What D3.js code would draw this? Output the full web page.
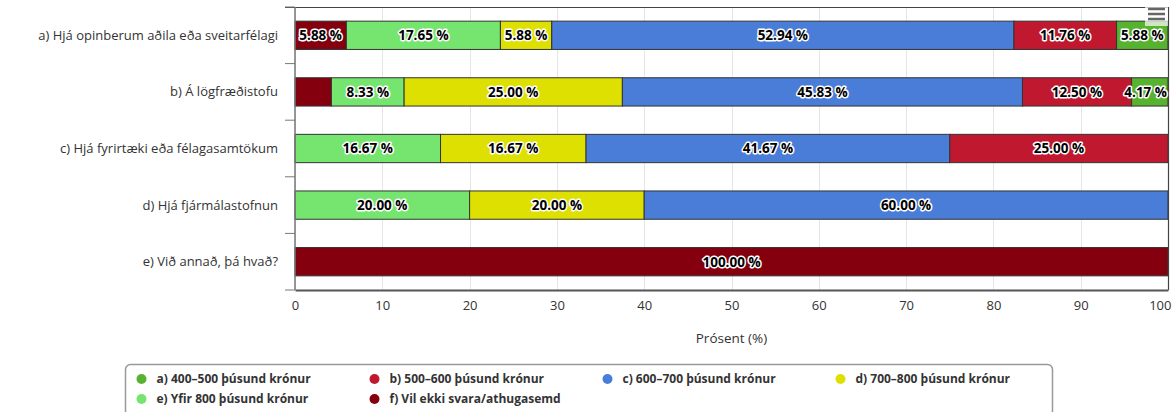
<!DOCTYPE html>
<html>
<head>
<meta charset="utf-8">
<script src="https://cdn.jsdelivr.net/npm/d3@7"></script>
<style>
  body { margin: 0; background: #fff; }
  text { font-family: "Open Sans", "DejaVu Sans", sans-serif; }
</style>
</head>
<body>
<div id="chart"></div>
<script>
// categories (y axis) and series, stacked left to right f, e, d, c, b, a
var categories = [
  "a) Hjá opinberum aðila eða sveitarfélagi",
  "b) Á lögfræðistofu",
  "c) Hjá fyrirtæki eða félagasamtökum",
  "d) Hjá fjármálastofnun",
  "e) Við annað, þá hvað?"
];

var seriesNames = [
  "a) 400–500 þúsund krónur",
  "b) 500–600 þúsund krónur",
  "c) 600–700 þúsund krónur",
  "d) 700–800 þúsund krónur",
  "e) Yfir 800 þúsund krónur",
  "f) Vil ekki svara/athugasemd"
];

var seriesColors = ["#57b22f", "#c0192f", "#4a7dd7", "#dde000", "#76e56f", "#84000f"];

// values per series, one per category
var valuesA = [5.88, 4.17, 0, 0, 0];
var valuesB = [11.76, 12.50, 25.00, 0, 0];
var valuesC = [52.94, 45.83, 41.67, 60.00, 0];
var valuesD = [5.88, 25.00, 16.67, 20.00, 0];
var valuesE = [17.65, 8.33, 16.67, 20.00, 0];
var valuesF = [5.88, 4.17, 0, 0, 100.00];

var xTicks = [0, 10, 20, 30, 40, 50, 60, 70, 80, 90, 100];

var allValues = [valuesA, valuesB, valuesC, valuesD, valuesE, valuesF];
var stackOrder = [5, 4, 3, 2, 1, 0]; // leftmost first

var width = 1174, height = 412;
var plot = { left: 295, top: 7, right: 1168, bottom: 290 };

var svg = d3.select("#chart").append("svg")
  .attr("width", width)
  .attr("height", height);

var x = d3.scaleLinear().domain([0, 100]).range([plot.left, plot.right]);
var y = d3.scaleBand().domain(categories).range([plot.top, plot.bottom]).paddingInner(0.5).paddingOuter(0.25);

// grid lines
svg.append("g")
  .selectAll("line")
  .data(xTicks)
  .enter()
  .append("line")
  .attr("x1", (d) => Math.round(x(d)) + 0.5)
  .attr("x2", (d) => Math.round(x(d)) + 0.5)
  .attr("y1", plot.top)
  .attr("y2", plot.bottom)
  .attr("stroke", "#e6e6e6");

// stacked rows
var segments = [];
categories.forEach(function (cat, ci) {
  var acc = 0;
  stackOrder.forEach(function (si) {
    var v = allValues[si][ci];
    if (v > 0) {
      segments.push({ cat: cat, series: si, x0: acc, x1: acc + v, value: v });
    }
    acc += v;
  });
});

svg.append("g")
  .selectAll("rect")
  .data(segments)
  .enter()
  .append("rect")
  .attr("x", (d) => x(d.x0))
  .attr("width", (d) => x(d.x1) - x(d.x0))
  .attr("y", (d) => y(d.cat))
  .attr("height", y.bandwidth())
  .attr("fill", (d) => seriesColors[d.series])
  .attr("stroke", "#333")
  .attr("stroke-width", 1);

// plot border (top and right)
svg.append("path")
  .attr("d", "M" + (plot.left - 10) + "," + (plot.top + 0.5) + "H" + (plot.right + 0.5) + "V" + plot.bottom)
  .attr("fill", "none")
  .attr("stroke", "#444")
  .attr("stroke-width", 1.2);

// y axis
var yAxisG = svg.append("g").attr("transform", "translate(" + plot.left + ",0)");
yAxisG.append("line")
  .attr("x1", 0).attr("x2", 0)
  .attr("y1", plot.top).attr("y2", plot.bottom)
  .attr("stroke", "#777").attr("stroke-width", 1.5);
var step = (plot.bottom - plot.top) / categories.length;
yAxisG.selectAll(".tick")
  .data(d3.range(categories.length + 1))
  .enter()
  .append("line")
  .attr("x1", -10).attr("x2", 0)
  .attr("y1", (i) => plot.top + i * step)
  .attr("y2", (i) => plot.top + i * step)
  .attr("stroke", "#777");
yAxisG.selectAll(".lbl")
  .data(categories)
  .enter()
  .append("text")
  .attr("x", -17)
  .attr("y", (d) => y(d) + y.bandwidth() / 2)
  .attr("dy", "0.35em")
  .attr("text-anchor", "end")
  .attr("font-size", "13px")
  .attr("fill", "#333")
  .text((d) => d);

// x axis
var xAxis = d3.axisBottom(x).tickValues(xTicks).tickSize(0).tickPadding(11);
var xAxisG = svg.append("g")
  .attr("transform", "translate(0," + plot.bottom + ")")
  .call(xAxis);
xAxisG.select(".domain").attr("stroke", "#555").attr("stroke-width", 2);
xAxisG.selectAll("text")
  .attr("font-size", "13px")
  .attr("fill", "#333")
  .attr("font-family", "\"Open Sans\", sans-serif");
// keep the last label inside the chart
xAxisG.selectAll(".tick")
  .filter((d) => d === 100)
  .select("text")
  .attr("text-anchor", "end")
  .attr("x", 3);

svg.append("text")
  .attr("x", (plot.left + plot.right) / 2)
  .attr("y", 343)
  .attr("text-anchor", "middle")
  .attr("font-size", "13.5px")
  .attr("fill", "#333")
  .text("Prósent (%)");

// data labels
var labelG = svg.append("g");
segments.forEach(function (d) {
  var cx = (x(d.x0) + x(d.x1)) / 2;
  var t = labelG.append("text")
    .attr("y", y(d.cat) + y.bandwidth() / 2)
    .attr("dy", "0.36em")
    .attr("text-anchor", "middle")
    .attr("font-size", "13.5px")
    .attr("font-weight", "bold")
    .attr("fill", "#000")
    .attr("stroke", "#fff")
    .attr("stroke-width", 3)
    .attr("stroke-linejoin", "round")
    .attr("paint-order", "stroke")
    .text(d.value.toFixed(2) + " %");
  var w = t.node().getComputedTextLength();
  if (cx - w / 2 < plot.left - 2) {
    t.remove();
    return;
  }
  if (cx + w / 2 > plot.right - 1) cx = plot.right - 1 - w / 2;
  t.attr("x", cx);
});

// menu button
var menu = svg.append("g");
menu.append("rect")
  .attr("x", 1145).attr("y", 4).attr("width", 23).attr("height", 22)
  .attr("fill", "#fff").attr("opacity", 0.7);
menu.selectAll("line")
  .data([14, 19, 24])
  .enter()
  .append("line")
  .attr("x1", 1148).attr("x2", 1165)
  .attr("y1", (d) => d - 5).attr("y2", (d) => d - 5)
  .attr("stroke", "#666").attr("stroke-width", 2.5);

// legend
var legendBox = { x: 125.5, y: 364.5, w: 927, h: 60 };
svg.append("rect")
  .attr("x", legendBox.x).attr("y", legendBox.y)
  .attr("width", legendBox.w).attr("height", legendBox.h)
  .attr("rx", 5)
  .attr("fill", "#fff")
  .attr("stroke", "#999")
  .attr("stroke-width", 1.5);

var legendItems = svg.append("g")
  .selectAll("g")
  .data(seriesNames)
  .enter()
  .append("g")
  .attr("transform", (d, i) => "translate(" + (141.5 + (i % 4) * 233) + "," + (379 + Math.floor(i / 4) * 20) + ")");
legendItems.append("circle")
  .attr("r", 5)
  .attr("fill", (d, i) => seriesColors[i]);
legendItems.append("text")
  .attr("x", 15)
  .attr("dy", "0.35em")
  .attr("font-size", "12px")
  .attr("font-weight", "bold")
  .attr("fill", "#333")
  .text((d) => d);
</script>
</body>
</html>
